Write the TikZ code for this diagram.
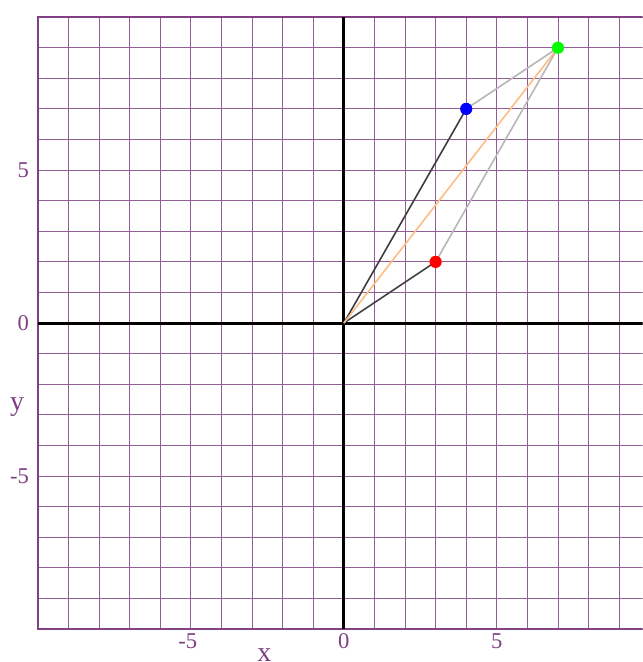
\documentclass[tikz,border=0pt]{standalone}
\usepackage{fontspec}
\setmainfont{Liberation Serif}
\definecolor{gridpurple}{RGB}{128,64,132}
\definecolor{segorange}{RGB}{255,188,130}
\begin{document}
\begin{tikzpicture}[gridline/.style={draw=gridpurple!85,line width=0.8pt},frame/.style={draw=gridpurple,line width=1.7pt},axis/.style={draw=black,line width=2.8pt},dot/.style={circle,inner sep=0pt,minimum size=0.38cm},lbl/.style={text=gridpurple,font=\fontsize{21}{24}\selectfont,inner sep=1pt}]
\useasboundingbox (-11.24,-11.08) rectangle (9.77,10.56);
\clip (-11.24,-11.08) rectangle (9.77,10.56);
\draw[gridline] (-10,-10) grid (10,10);
\draw[frame] (-10,-10) rectangle (10,10);
\draw[axis] (-10,0)--(10,0);
\draw[axis] (0,-10)--(0,10);
\node[lbl,anchor=east] (t5) at (-10.25,5) {5};
\node[lbl,anchor=east] (t0) at (-10.25,0) {0};
\node[lbl,anchor=east] (tm5) at (-10.25,-5) {-5};
\node[lbl,font=\fontsize{26}{28}\selectfont] (ylab) at (-10.68,-2.75) {y};
\node[lbl,anchor=north] (sm5) at (-5.1,-10.1) {-5};
\node[lbl,anchor=north] (s0) at (0,-10.1) {0};
\node[lbl,anchor=north] (s5) at (5,-10.1) {5};
\node[lbl,font=\fontsize{26}{28}\selectfont] (xlab) at (-2.6,-10.85) {x};
\coordinate (o) at (0,0);
\node[dot] (b) at (4,7) {};
\node[dot] (r) at (3,2) {};
\node[dot] (g) at (7,9) {};
\draw[black!75,line width=1.5pt] (o)--(b.center);
\draw[black!75,line width=1.5pt] (o)--(r.center);
\draw[black!28,line width=1.5pt] (b.center)--(g.center);
\draw[black!28,line width=1.5pt] (r.center)--(g.center);
\draw[segorange,line width=1.5pt] (o)--(g.center);
\fill[blue] (b) circle (0.2);
\fill[red] (r) circle (0.2);
\fill[green] (g) circle (0.2);
\end{tikzpicture}
\end{document}
